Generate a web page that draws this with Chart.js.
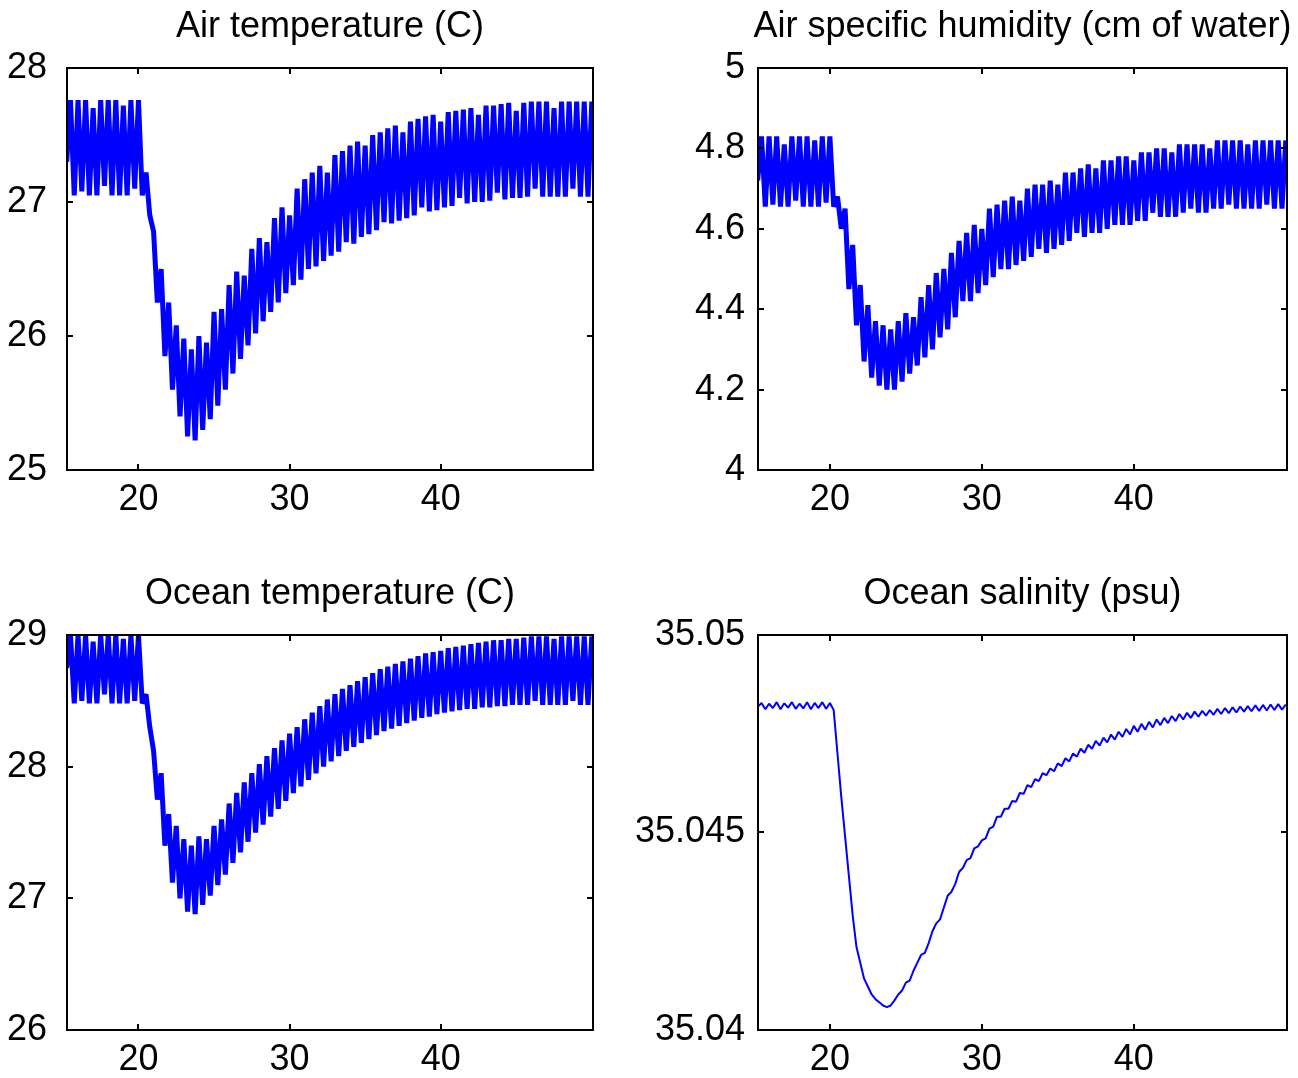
<!DOCTYPE html>
<html lang="en">

<head>
  <meta charset="UTF-8">
  <title>Air and ocean response</title>
  <script src="https://cdn.jsdelivr.net/npm/chart.js"></script>
  <style>
    body {
      margin: 0;
      background-color: white;
    }

    canvas {
      position: absolute;
    }
  </style>
</head>

<body>
  <canvas id="airTempChart" width="649" height="539" style="left:0;top:0"></canvas>
  <canvas id="humidityChart" width="698" height="539" style="left:600px;top:0"></canvas>
  <canvas id="oceanTempChart" width="649" height="539" style="left:0;top:539px"></canvas>
  <canvas id="salinityChart" width="698" height="539" style="left:600px;top:539px"></canvas>

  <script>
    // time axis (days), sampled every quarter day
    const days = [
      15.25, 15.5, 15.75, 16, 16.25, 16.5, 16.75, 17, 17.25, 17.5, 17.75, 18, 18.25, 18.5, 18.75, 19, 19.25, 19.5, 19.75, 20,
      20.25, 20.5, 20.75, 21, 21.25, 21.5, 21.75, 22, 22.25, 22.5, 22.75, 23, 23.25, 23.5, 23.75, 24, 24.25, 24.5, 24.75, 25,
      25.25, 25.5, 25.75, 26, 26.25, 26.5, 26.75, 27, 27.25, 27.5, 27.75, 28, 28.25, 28.5, 28.75, 29, 29.25, 29.5, 29.75, 30,
      30.25, 30.5, 30.75, 31, 31.25, 31.5, 31.75, 32, 32.25, 32.5, 32.75, 33, 33.25, 33.5, 33.75, 34, 34.25, 34.5, 34.75, 35,
      35.25, 35.5, 35.75, 36, 36.25, 36.5, 36.75, 37, 37.25, 37.5, 37.75, 38, 38.25, 38.5, 38.75, 39, 39.25, 39.5, 39.75, 40,
      40.25, 40.5, 40.75, 41, 41.25, 41.5, 41.75, 42, 42.25, 42.5, 42.75, 43, 43.25, 43.5, 43.75, 44, 44.25, 44.5, 44.75, 45,
      45.25, 45.5, 45.75, 46, 46.25, 46.5, 46.75, 47, 47.25, 47.5, 47.75, 48, 48.25, 48.5, 48.75, 49, 49.25, 49.5, 49.75, 50
    ];

    const airTemp = [
      27.3, 27.76, 27.05, 27.76, 27.08, 27.76, 27.05, 27.7, 27.05, 27.76, 27.12, 27.76, 27.05, 27.76, 27.05, 27.72, 27.05, 27.76, 27.1, 27.76,
      27.05, 27.22, 26.9, 26.78, 26.25, 26.5, 25.85, 26.25, 25.6, 26.08, 25.4, 25.98, 25.25, 25.9, 25.22, 26.0, 25.3, 25.95, 25.38, 26.18,
      25.48, 26.2, 25.6, 26.38, 25.72, 26.48, 25.83, 26.45, 25.93, 26.65, 26.02, 26.73, 26.11, 26.7, 26.18, 26.88, 26.25, 26.96, 26.32, 26.9,
      26.38, 27.1, 26.42, 27.17, 26.5, 27.22, 26.52, 27.27, 26.56, 27.22, 26.6, 27.35, 26.63, 27.38, 26.7, 27.42, 26.69, 27.45, 26.74, 27.42,
      26.76, 27.5, 26.79, 27.52, 26.85, 27.55, 26.84, 27.57, 26.86, 27.52, 26.88, 27.6, 26.9, 27.62, 26.96, 27.64, 26.93, 27.65, 26.94, 27.6,
      26.96, 27.67, 26.97, 27.68, 27.03, 27.69, 26.99, 27.7, 27.0, 27.65, 27.0, 27.72, 27.01, 27.72, 27.07, 27.73, 27.02, 27.74, 27.03, 27.68,
      27.03, 27.74, 27.04, 27.75, 27.1, 27.75, 27.04, 27.75, 27.04, 27.7, 27.04, 27.75, 27.04, 27.75, 27.1, 27.75, 27.04, 27.75, 27.04, 27.75
    ];

    const humidity = [
      4.72, 4.83, 4.655, 4.83, 4.66, 4.83, 4.655, 4.81, 4.655, 4.83, 4.67, 4.83, 4.655, 4.83, 4.655, 4.82, 4.655, 4.83, 4.665, 4.83,
      4.655, 4.68, 4.6, 4.65, 4.45, 4.56, 4.36, 4.46, 4.27, 4.41, 4.23, 4.37, 4.21, 4.36, 4.2, 4.35, 4.2, 4.37, 4.22, 4.39,
      4.24, 4.38, 4.26, 4.43, 4.28, 4.46, 4.3, 4.49, 4.33, 4.5, 4.35, 4.54, 4.38, 4.57, 4.42, 4.59, 4.42, 4.61, 4.44, 4.6,
      4.46, 4.65, 4.48, 4.66, 4.5, 4.67, 4.5, 4.68, 4.51, 4.67, 4.52, 4.7, 4.53, 4.71, 4.55, 4.71, 4.54, 4.72, 4.55, 4.71,
      4.56, 4.74, 4.57, 4.74, 4.59, 4.75, 4.58, 4.76, 4.59, 4.75, 4.59, 4.77, 4.6, 4.77, 4.61, 4.78, 4.61, 4.78, 4.61, 4.77,
      4.62, 4.79, 4.62, 4.79, 4.64, 4.8, 4.63, 4.8, 4.63, 4.79, 4.63, 4.81, 4.64, 4.81, 4.65, 4.81, 4.64, 4.81, 4.64, 4.8,
      4.65, 4.82, 4.65, 4.82, 4.66, 4.82, 4.65, 4.82, 4.65, 4.81, 4.65, 4.82, 4.65, 4.82, 4.66, 4.82, 4.65, 4.82, 4.65, 4.82
    ];

    const oceanTemp = [
      28.75, 29.0, 28.48, 29.0, 28.5, 29.0, 28.48, 28.95, 28.48, 29.0, 28.55, 29.0, 28.48, 29.0, 28.48, 28.97, 28.48, 29.0, 28.5, 29.0,
      28.48, 28.55, 28.3, 28.12, 27.75, 27.95, 27.4, 27.64, 27.12, 27.55, 27.0, 27.45, 26.9, 27.4, 26.88, 27.47, 26.95, 27.45, 27.02, 27.55,
      27.1, 27.6, 27.18, 27.72, 27.27, 27.8, 27.35, 27.88, 27.43, 27.95, 27.5, 28.02, 27.56, 28.08, 27.62, 28.14, 27.68, 28.2, 27.74, 28.25,
      27.8, 28.3, 27.85, 28.36, 27.9, 28.41, 27.95, 28.46, 28.0, 28.51, 28.04, 28.55, 28.08, 28.59, 28.12, 28.62, 28.15, 28.65, 28.18, 28.68,
      28.21, 28.71, 28.24, 28.74, 28.27, 28.76, 28.29, 28.78, 28.31, 28.8, 28.33, 28.82, 28.35, 28.84, 28.37, 28.86, 28.38, 28.87, 28.4, 28.88,
      28.41, 28.9, 28.42, 28.91, 28.43, 28.92, 28.44, 28.93, 28.44, 28.94, 28.45, 28.95, 28.45, 28.96, 28.46, 28.96, 28.46, 28.97, 28.47, 28.97,
      28.47, 28.98, 28.47, 28.99, 28.5, 28.99, 28.47, 28.99, 28.47, 28.97, 28.47, 28.99, 28.47, 28.99, 28.5, 28.99, 28.47, 28.99, 28.47, 28.99
    ];

    const salinity = [
      35.04818, 35.04828, 35.04812, 35.04826, 35.04815, 35.0483, 35.04812, 35.04827, 35.04816, 35.0483, 35.04813, 35.04826, 35.04814, 35.0483, 35.04812, 35.04828, 35.04815, 35.0483, 35.04813, 35.04828,
      35.0481, 35.047, 35.0459, 35.0449, 35.0439, 35.0429, 35.0421, 35.0417, 35.0413, 35.0411, 35.0409, 35.04078, 35.0407, 35.04062, 35.04058, 35.04062, 35.04075, 35.0409, 35.041, 35.0412,
      35.04125, 35.0415, 35.0417, 35.0419, 35.04195, 35.0422, 35.0425, 35.0427, 35.0428, 35.0431, 35.0434, 35.0435, 35.0437, 35.044, 35.0441, 35.0443, 35.04435, 35.0446, 35.04465, 35.0448,
      35.04485, 35.0451, 35.04515, 35.0454, 35.0454, 35.0456, 35.0456, 35.0458, 35.04578, 35.046, 35.04598, 35.0462, 35.04615, 35.04635, 35.0463, 35.0465, 35.04645, 35.04662, 35.04655, 35.04675,
      35.04668, 35.04688, 35.0468, 35.047, 35.04692, 35.04712, 35.04702, 35.04722, 35.04712, 35.04732, 35.0472, 35.0474, 35.04728, 35.04748, 35.04735, 35.04755, 35.04742, 35.04762, 35.04748, 35.0477,
      35.04755, 35.04775, 35.0476, 35.0478, 35.04766, 35.04786, 35.04772, 35.0479, 35.04777, 35.04795, 35.04782, 35.048, 35.04786, 35.04803, 35.0479, 35.04806, 35.04793, 35.04808, 35.04796, 35.0481,
      35.04798, 35.04813, 35.048, 35.04815, 35.04802, 35.04817, 35.04804, 35.04819, 35.04806, 35.0482, 35.04807, 35.04822, 35.04808, 35.04823, 35.04809, 35.04824, 35.0481, 35.04825, 35.04811, 35.04824
    ];

    // tick positions and labels
    const dayTicks = [20, 30, 40];
    const dayLabels = ['20', '30', '40'];
    const airTempTicks = [25, 26, 27, 28];
    const airTempLabels = ['25', '26', '27', '28'];
    const humidityTicks = [4, 4.2, 4.4, 4.6, 4.8, 5];
    const humidityLabels = ['4', '4.2', '4.4', '4.6', '4.8', '5'];
    const oceanTempTicks = [26, 27, 28, 29];
    const oceanTempLabels = ['26', '27', '28', '29'];
    const salinityTicks = [35.04, 35.045, 35.05];
    const salinityLabels = ['35.04', '35.045', '35.05'];

    const FONT = '"Liberation Sans", Arial, sans-serif';

    // matlab style box: frame, inward ticks on all sides, title above
    const boxPlugin = {
      id: 'box',
      afterDatasetsDraw(chart, args, opts) {
        const ctx = chart.ctx;
        const a = chart.chartArea;
        const xs = chart.scales.x;
        const ys = chart.scales.y;
        ctx.save();
        ctx.strokeStyle = '#000';
        ctx.lineWidth = 2;
        ctx.strokeRect(a.left, a.top, a.right - a.left, a.bottom - a.top);
        ctx.beginPath();
        xs.ticks.forEach(t => {
          const px = Math.round(xs.getPixelForValue(t.value));
          ctx.moveTo(px, a.bottom); ctx.lineTo(px, a.bottom - 6);
          ctx.moveTo(px, a.top); ctx.lineTo(px, a.top + 6);
        });
        ys.ticks.forEach(t => {
          const py = Math.round(ys.getPixelForValue(t.value));
          ctx.moveTo(a.left, py); ctx.lineTo(a.left + 6, py);
          ctx.moveTo(a.right, py); ctx.lineTo(a.right - 6, py);
        });
        ctx.stroke();
        ctx.fillStyle = '#000';
        ctx.font = '36px ' + FONT;
        ctx.textAlign = 'center';
        ctx.textBaseline = 'middle';
        ctx.fillText(opts.text, (a.left + a.right) / 2, a.top - 41);
        ctx.restore();
      }
    };

    function createChart(canvasId, title, values, yTicks, yLabels, g) {
      const ctx = document.getElementById(canvasId).getContext('2d');
      return new Chart(ctx, {
        type: 'line',
        data: {
          datasets: [{
            data: days.map((d, i) => ({ x: d, y: values[i] })),
            borderColor: '#0000ff',
            borderWidth: g.lw,
            borderJoinStyle: 'bevel',
            pointRadius: 0,
            tension: 0,
            fill: false
          }]
        },
        options: {
          responsive: false,
          animation: false,
          layout: { padding: { top: g.top, right: g.right, left: 0, bottom: 0 } },
          plugins: {
            legend: { display: false },
            tooltip: { enabled: false },
            box: { text: title }
          },
          scales: {
            x: {
              type: 'linear',
              min: 15.27,
              max: 50.08,
              grid: { display: false, drawTicks: false },
              border: { display: false },
              afterBuildTicks: s => { s.ticks = dayTicks.map(v => ({ value: v })); },
              afterFit: s => { s.height = g.xh; },
              ticks: {
                color: '#000',
                padding: 8,
                maxRotation: 0,
                font: { family: FONT, size: 36 },
                callback: (v, i) => dayLabels[i]
              }
            },
            y: {
              min: yTicks[0],
              max: yTicks[yTicks.length - 1],
              grid: { display: false, drawTicks: false },
              border: { display: false },
              afterBuildTicks: s => { s.ticks = yTicks.map(v => ({ value: v })); },
              afterFit: s => { s.width = g.yw; },
              ticks: {
                color: '#000',
                padding: g.pad,
                font: { family: FONT, size: 36 },
                callback: (v, i) => yLabels[i]
              }
            }
          }
        },
        plugins: [boxPlugin]
      });
    }

    createChart('airTempChart', 'Air temperature (C)', airTemp, airTempTicks, airTempLabels,
      { top: 68, right: 56, xh: 69, yw: 67, pad: 20, lw: 5 });
    createChart('humidityChart', 'Air specific humidity (cm of water)', humidity, humidityTicks, humidityLabels,
      { top: 68, right: 11, xh: 69, yw: 158, pad: 13, lw: 5 });
    createChart('oceanTempChart', 'Ocean temperature (C)', oceanTemp, oceanTempTicks, oceanTempLabels,
      { top: 96, right: 56, xh: 48, yw: 67, pad: 20, lw: 5 });
    createChart('salinityChart', 'Ocean salinity (psu)', salinity, salinityTicks, salinityLabels,
      { top: 96, right: 11, xh: 48, yw: 158, pad: 13, lw: 2 });
  </script>
</body>

</html>
